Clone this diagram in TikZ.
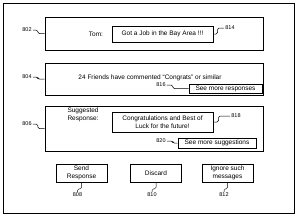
\documentclass[tikz,border=0pt]{standalone}
\usepackage{fontspec}
\setmainfont{Liberation Sans}
\begin{document}
\begin{tikzpicture}[x=1pt, y=-1pt, every node/.style={font=\fontsize{6.5}{7.5}\selectfont},
  panel/.style={draw, line width=0.6pt, minimum width=218pt, inner sep=0pt},
  msgbox/.style={draw, line width=1pt, minimum width=101pt, align=center, inner sep=1pt},
  smallbox/.style={draw, line width=0.6pt, inner sep=1pt, align=center},
  btn/.style={draw, line width=0.6pt, minimum width=51pt, minimum height=18pt, align=center, inner sep=1pt},
  refnum/.style={font=\fontsize{5.5}{6}\selectfont, inner sep=1pt},
  leader/.style={line width=0.5pt, rounded corners=1.5pt}]
\useasboundingbox (0,0) rectangle (300,220);
\draw[line width=0.8pt] (3,3) rectangle (294,213);
% panels
\node[panel,minimum height=33pt] (p802) at (154,33.5) {};
\node[panel,minimum height=32pt] (p804) at (154,79) {};
\node[panel,minimum height=45pt] (p806) at (154,128.5) {};
\node[refnum] (r802) at (27,30) {802};
\node[refnum] (r804) at (27,77) {804};
\node[refnum] (r806) at (27,124) {806};
\draw[leader] (r802.east) -- ++(5,0) |- (p802.west);
\draw[leader] (r804.east) -- ++(5,0) |- (p804.west);
\draw[leader] (r806.east) -- ++(5,0) |- (p806.west);
% message
\node (tom) at (96,34) {Tom:};
\node[msgbox,minimum height=16pt] (m814) at (162.5,34) {Got a Job in the Bay Area !!!};
\node[refnum] (r814) at (230,28) {814};
\draw[leader] (m814.east) -- ++(4,0) |- (r814.west);
% comments
\node (friends) at (150,78) {24 Friends have commented ``Congrats'' or similar};
\node[smallbox,minimum width=73pt,minimum height=9pt] (b816) at (225.5,88.5) {See more responses};
\node[refnum] (r816) at (161,85) {816};
\draw[leader] (r816.east) -- ++(6,0) |- (b816.west);
% suggestion
\node[anchor=west,align=left] (sugg) at (64,115) {Suggested\\Response:};
\node[msgbox,minimum height=20pt] (m818) at (162.5,122) {Congratulations and Best of\\Luck for the future!};
\node[refnum] (r818) at (236,116) {818};
\draw[leader] (m818.east) -- ++(5,0) |- (r818.west);
\node[smallbox,minimum width=78pt,minimum height=10pt] (b820) at (217,143) {See more suggestions};
\node[refnum] (r820) at (161,141) {820};
\draw[leader] (r820.east) -- ++(6,0) |- (b820.west);
% buttons
\node[btn] (b808) at (81.5,173) {Send\\Response};
\node[btn] (b810) at (156,173) {Discard};
\node[btn] (b812) at (227.5,173) {Ignore such\\messages};
\node[refnum] (r808) at (77.5,195) {808};
\node[refnum] (r810) at (152,195) {810};
\node[refnum] (r812) at (224,195) {812};
\draw[leader] (r808.north) -- ++(0,-3) -| (b808.south);
\draw[leader] (r810.north) -- ++(0,-3) -| (b810.south);
\draw[leader] (r812.north) -- ++(0,-3) -| (b812.south);
\end{tikzpicture}
\end{document}
